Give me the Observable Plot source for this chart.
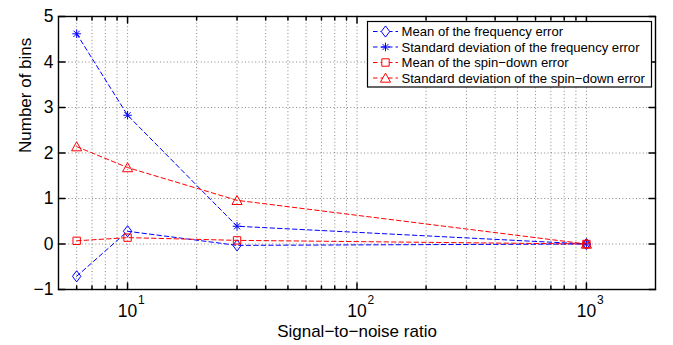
<!DOCTYPE html>
<html>
<head>
<meta charset="utf-8">
<script src="https://cdn.jsdelivr.net/npm/d3@7"></script>
<script src="https://cdn.jsdelivr.net/npm/@observablehq/plot@0.6"></script>
<style>
  html, body { margin: 0; padding: 0; background: #fff; }
  #wrap { position: relative; width: 673px; height: 345px; font-family: "Liberation Sans", Arial, Helvetica, sans-serif; }
  #legend { position: absolute; left: 0; top: 0; }
</style>
</head>
<body>
<div id="wrap"></div>
<script>
// ---- data ----
const snr = [6, 10, 30, 1000];
const meanFreq = [-0.71, 0.28, -0.03, 0.0];
const stdFreq  = [4.62, 2.83, 0.39, 0.0];
const meanSpin = [0.07, 0.14, 0.08, 0.0];
const stdSpin  = [2.14, 1.68, 0.96, 0.0];
const seriesNames = [
  "Mean of the frequency error",
  "Standard deviation of the frequency error",
  "Mean of the spin\u2212down error",
  "Standard deviation of the spin\u2212down error"
];
const xMajor = [10, 100, 1000];
const xExponent = ["1", "2", "3"];
const xMinor = [6, 7, 8, 9, 20, 30, 40, 50, 60, 70, 80, 90, 200, 300, 400, 500, 600, 700, 800, 900];
const yTicks = [-1, 0, 1, 2, 3, 4, 5];
const xLabel = "Signal\u2212to\u2212noise ratio";
const yLabel = "Number of bins";

// ---- symbols (MATLAB-like markers) ----
const diamond = {draw(c, size) { const r = Math.sqrt(size / Math.PI); c.moveTo(0, -r * 1.33); c.lineTo(r, 0); c.lineTo(0, r * 1.33); c.lineTo(-r, 0); c.closePath(); }};
const asterisk = {draw(c, size) { const r = Math.sqrt(size / Math.PI); const d = r * 0.72;
  c.moveTo(-r, 0); c.lineTo(r, 0); c.moveTo(0, -r); c.lineTo(0, r);
  c.moveTo(-d, -d); c.lineTo(d, d); c.moveTo(-d, d); c.lineTo(d, -d); }};
const square = {draw(c, size) { const r = Math.sqrt(size / Math.PI) * 0.9; c.moveTo(-r, -r); c.lineTo(r, -r); c.lineTo(r, r); c.lineTo(-r, r); c.closePath(); }};
const triangle = {draw(c, size) { const r = Math.sqrt(size / Math.PI); c.moveTo(0, -r * 1.1); c.lineTo(r * 1.15, r * 0.95); c.lineTo(-r * 1.15, r * 0.95); c.closePath(); }};

const blue = "#0000ff", red = "#ff0000";
const series = [
  {name: seriesNames[0], values: meanFreq, color: blue, symbol: diamond, r: 4.2},
  {name: seriesNames[1], values: stdFreq,  color: blue, symbol: asterisk, r: 4.3},
  {name: seriesNames[2], values: meanSpin, color: red,  symbol: square, r: 4.1},
  {name: seriesNames[3], values: stdSpin,  color: red,  symbol: triangle, r: 4.4}
];

const tickShape = {draw(c, l) { c.moveTo(0, 0); c.lineTo(0, -l); }};
const dash = "4.5,3";
const gridStyle = {stroke: "#7a7a7a", strokeWidth: 0.9, strokeDasharray: "1,2.4"};

const marks = [
  // grid
  Plot.ruleX(xMinor.concat(xMajor), {...gridStyle}),
  Plot.ruleY(yTicks.slice(1, -1), {...gridStyle}),
  // ticks (inside, on all four sides)
  Plot.vector(xMinor, {x: d => d, frameAnchor: "bottom", length: 3.5, rotate: 0, anchor: "start", shape: tickShape, stroke: "black"}),
  Plot.vector(xMinor, {x: d => d, frameAnchor: "top", length: 3.5, rotate: 180, anchor: "start", shape: tickShape, stroke: "black"}),
  Plot.vector(xMajor, {x: d => d, frameAnchor: "bottom", length: 6.5, rotate: 0, anchor: "start", shape: tickShape, stroke: "black"}),
  Plot.vector(xMajor, {x: d => d, frameAnchor: "top", length: 6.5, rotate: 180, anchor: "start", shape: tickShape, stroke: "black"}),
  Plot.vector(yTicks, {y: d => d, frameAnchor: "left", length: 6.5, rotate: 90, anchor: "start", shape: tickShape, stroke: "black"}),
  Plot.vector(yTicks, {y: d => d, frameAnchor: "right", length: 6.5, rotate: -90, anchor: "start", shape: tickShape, stroke: "black"}),
];
for (const s of series) {
  const rows = snr.map((x, i) => ({x, y: s.values[i]}));
  marks.push(Plot.line(rows, {x: "x", y: "y", stroke: s.color, strokeWidth: 1, strokeDasharray: dash}));
  marks.push(Plot.dot(rows, {x: "x", y: "y", stroke: s.color, fill: "none", strokeWidth: 1, symbol: s.symbol, r: s.r}));
}
marks.push(
  Plot.frame({stroke: "black", strokeWidth: 1.4}),
  // tick labels
  Plot.text(yTicks, {y: d => d, frameAnchor: "left", dx: -5, textAnchor: "end", fontSize: 17.5,
    text: d => d < 0 ? "\u2212" + (-d) : String(d), fill: "black"}),
  Plot.text(xMajor, {x: d => d, frameAnchor: "bottom", dy: 27, lineAnchor: "bottom", fontSize: 17.5, text: () => "10", fill: "black"}),
  Plot.text(xMajor, {x: d => d, frameAnchor: "bottom", dy: 14.5, dx: 10.5, lineAnchor: "bottom", textAnchor: "start", fontSize: 12,
    text: (d, i) => xExponent[i], fill: "black"}),
  // axis labels
  Plot.text([xLabel], {frameAnchor: "bottom", dy: 47, lineAnchor: "bottom", fontSize: 17, fill: "black"}),
  Plot.text([yLabel], {frameAnchor: "left", dx: -33, rotate: -90, fontSize: 17, fill: "black"})
);

const chart = Plot.plot({
  width: 673,
  height: 345,
  marginLeft: 58,
  marginRight: 18,
  marginTop: 16,
  marginBottom: 56,
  style: {fontFamily: '"Liberation Sans", Arial, Helvetica, sans-serif', background: "white", overflow: "visible"},
  x: {type: "log", domain: [5, 2000], axis: null},
  y: {domain: [-1, 5], axis: null},
  marks
});
const wrap = document.getElementById("wrap");
wrap.appendChild(chart);

// ---- legend (inside the axes, upper right) ----
const lg = d3.select(wrap).append("svg").attr("id", "legend").attr("width", 673).attr("height", 345)
  .style("font-family", '"Liberation Sans", Arial, Helvetica, sans-serif');
const box = {x: 367.5, y: 21.5, w: 284, h: 65.5};
lg.append("rect").attr("x", box.x).attr("y", box.y).attr("width", box.w).attr("height", box.h)
  .attr("fill", "white").attr("stroke", "black").attr("stroke-width", 1.2);
const rowY = [31.5, 47, 62.5, 78];
series.forEach((s, i) => {
  const g = lg.append("g").attr("transform", `translate(0,${rowY[i]})`);
  g.append("line").attr("x1", 373).attr("x2", 398).attr("y1", 0).attr("y2", 0)
    .attr("stroke", s.color).attr("stroke-width", 1).attr("stroke-dasharray", dash);
  g.append("path").attr("transform", "translate(385.5,0)")
    .attr("d", d3.symbol().type(s.symbol).size(Math.PI * s.r * s.r)())
    .attr("fill", "white").attr("stroke", s.color).attr("stroke-width", 1);
  g.append("text").attr("x", 401.5).attr("y", 0).attr("dy", "0.36em").attr("font-size", 13.1).attr("fill", "black").text(s.name);
});
</script>
</body>
</html>
